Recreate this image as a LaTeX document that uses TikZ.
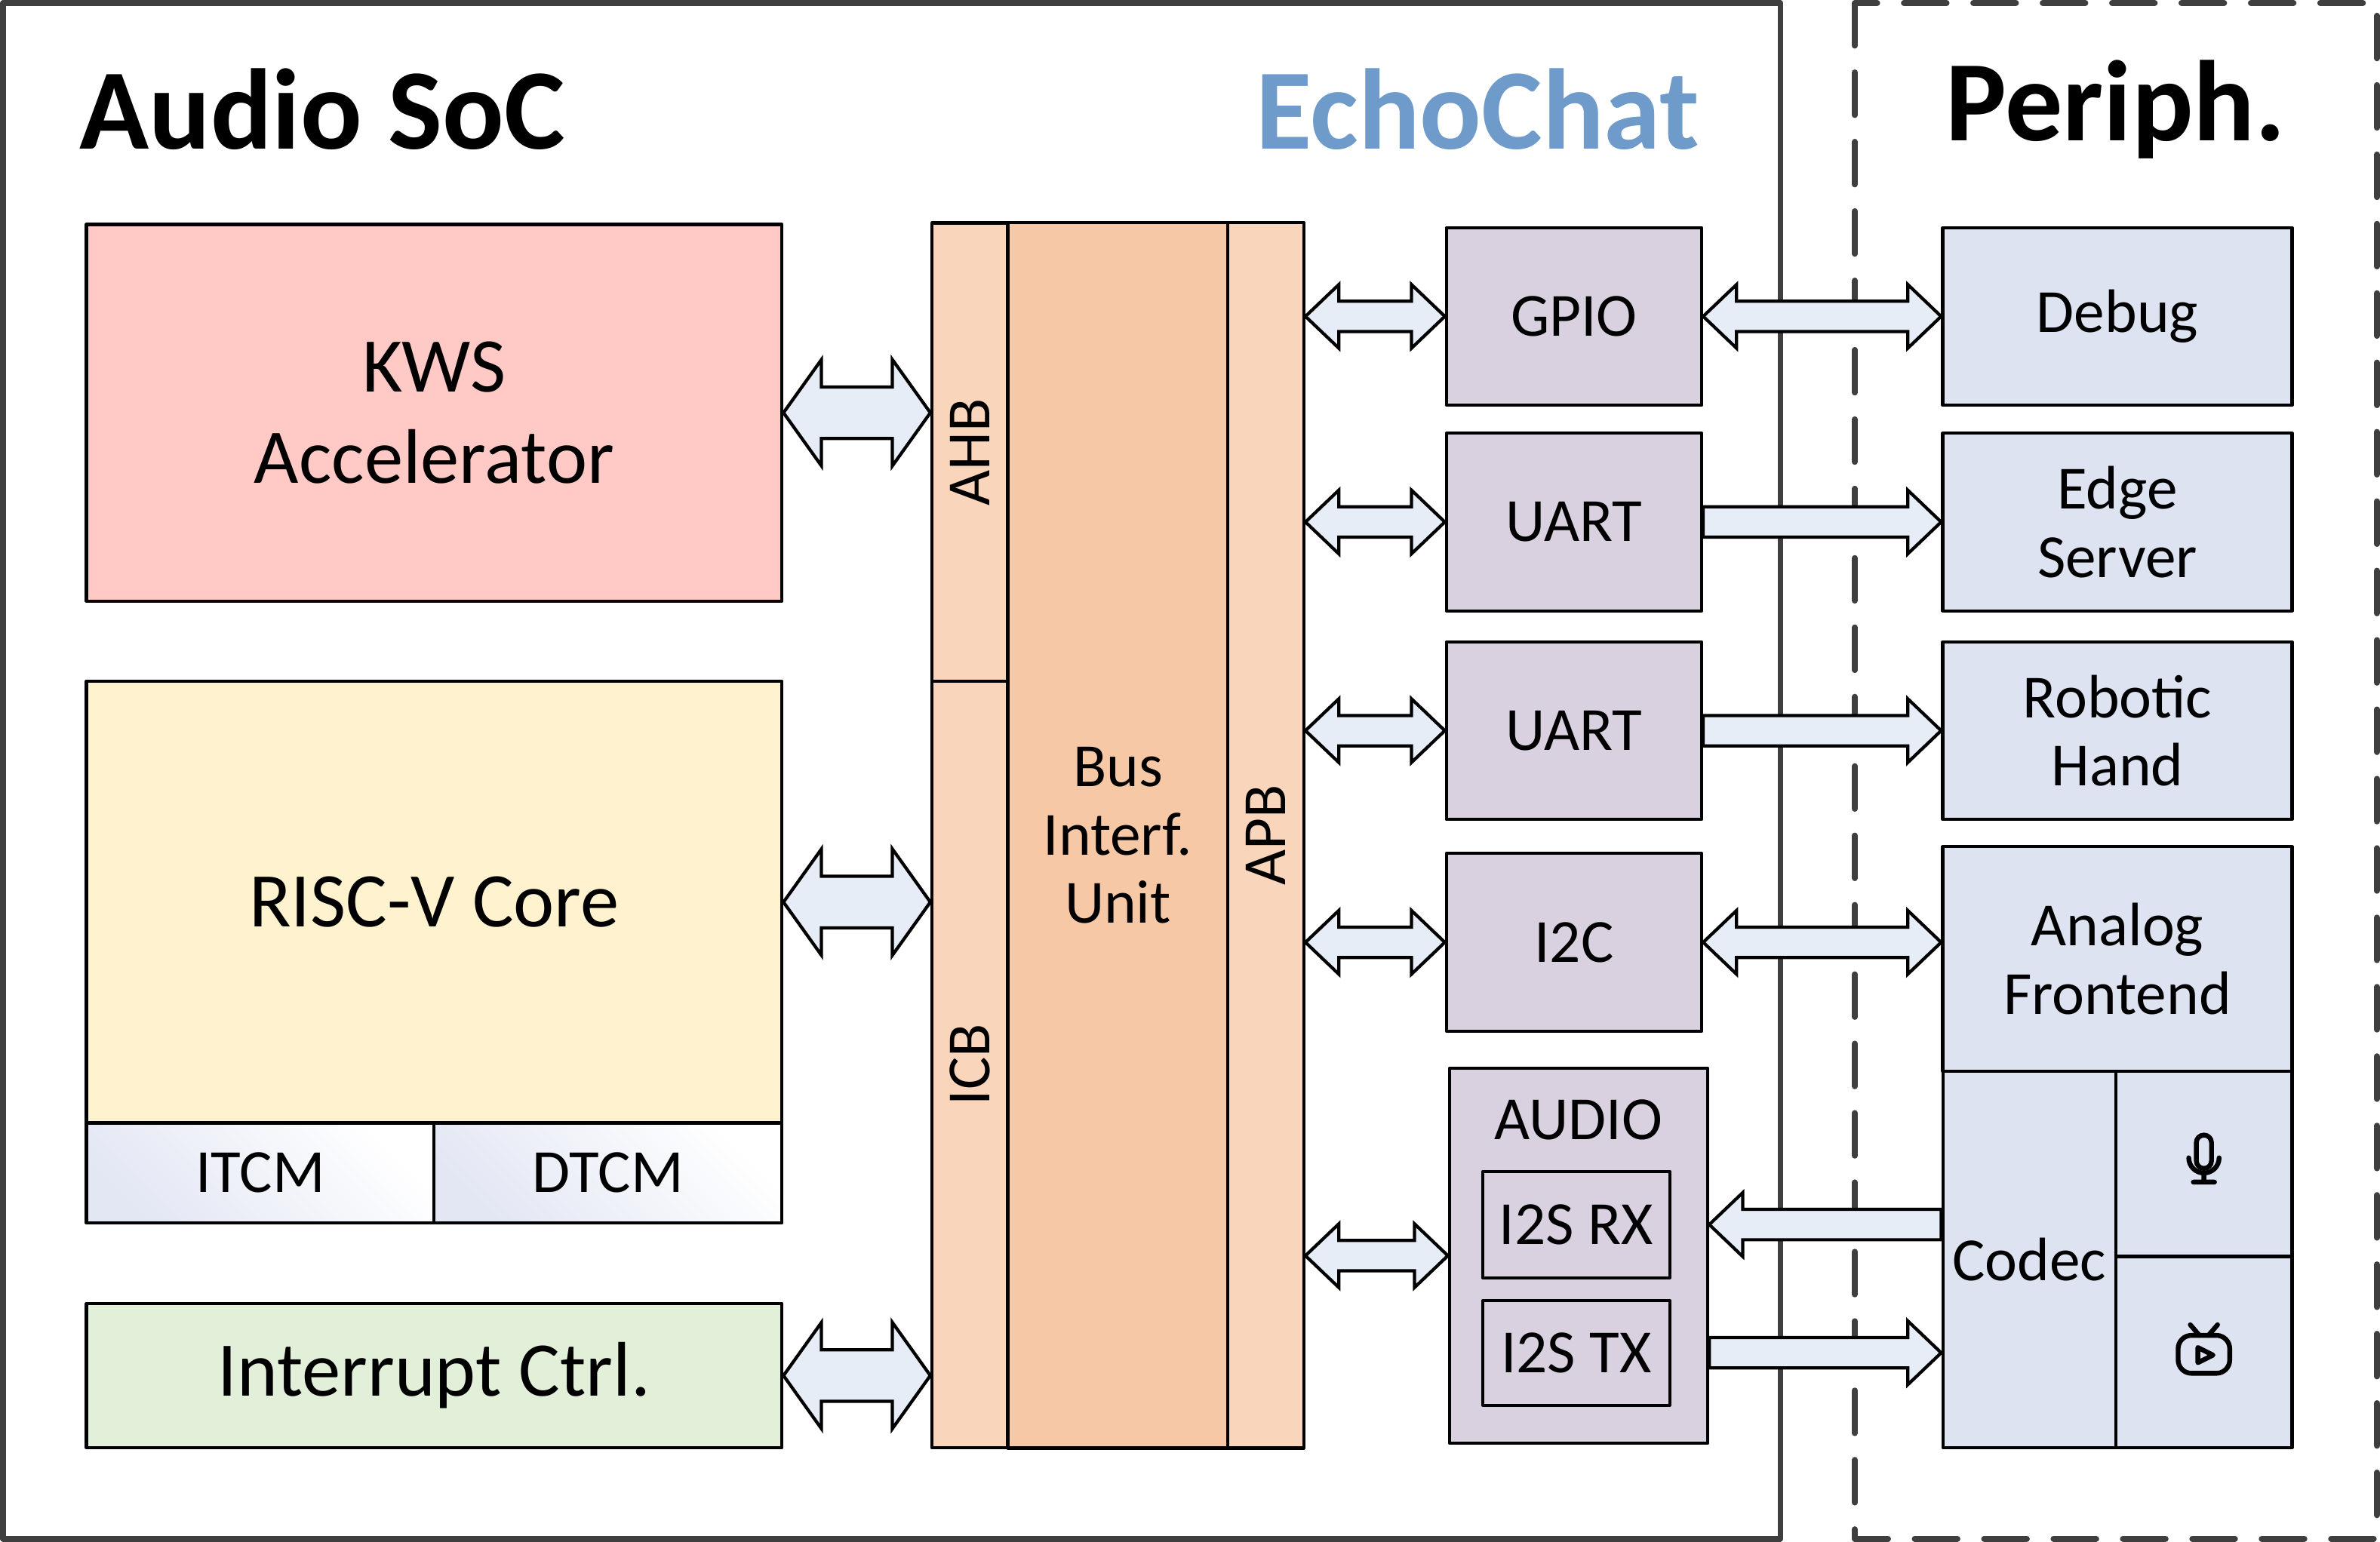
\documentclass[tikz,border=0pt]{standalone}
\usepackage{fontspec}
\setmainfont{Carlito}
\usetikzlibrary{calc}
\definecolor{kwsred}{HTML}{FFC9C5}
\definecolor{coreyel}{HTML}{FFF2CF}
\definecolor{irqgrn}{HTML}{E2EFD9}
\definecolor{busor}{HTML}{F8D5BB}
\definecolor{biuor}{HTML}{F6C8A6}
\definecolor{perpur}{HTML}{D9D0E0}
\definecolor{extblu}{HTML}{DDE3F1}
\definecolor{arrblu}{HTML}{E6EDF7}
\definecolor{tcmblu}{HTML}{E3E7F4}
\definecolor{echoblu}{HTML}{6F9BCB}
\definecolor{frame}{HTML}{3F3F3F}
\tikzset{
  blk/.style={draw, line width=0.6pt, inner sep=0pt, align=center},
  arr/.style={draw, line width=0.6pt, fill=arrblu, line join=miter},
}
% fat double arrow: #1 left point, #2 right point, #3 shaft half, #4 head half, #5 head length
\newcommand\dblarr[5]{%
\path[arr] let \p1=(#1), \p2=(#2) in
  (\x1,\y1) -- (\x1+#5,\y1+#4) -- (\x1+#5,\y1+#3) -- (\x2-#5,\y1+#3) -- (\x2-#5,\y1+#4)
  -- (\x2,\y1) -- (\x2-#5,\y1-#4) -- (\x2-#5,\y1-#3) -- (\x1+#5,\y1-#3) -- (\x1+#5,\y1-#4) -- cycle;}
% fat single arrow pointing right
\newcommand\rarr[5]{%
\path[arr] let \p1=(#1), \p2=(#2) in
  (\x1,\y1+#3) -- (\x2-#5,\y1+#3) -- (\x2-#5,\y1+#4) -- (\x2,\y1)
  -- (\x2-#5,\y1-#4) -- (\x2-#5,\y1-#3) -- (\x1,\y1-#3) -- cycle;}
% fat single arrow pointing left
\newcommand\larr[5]{%
\path[arr] let \p1=(#1), \p2=(#2) in
  (\x2,\y1+#3) -- (\x1+#5,\y1+#3) -- (\x1+#5,\y1+#4) -- (\x1,\y1)
  -- (\x1+#5,\y1-#4) -- (\x1+#5,\y1-#3) -- (\x2,\y1-#3) -- cycle;}
\begin{document}
\begin{tikzpicture}[x=0.01cm, y=-0.01cm, line join=round, line cap=round]
\useasboundingbox (0,0) rectangle (1568,1016);
%Khung
\draw[frame, line width=1.1pt] (2,2) rectangle (1173,1014);
\draw[frame, line width=1.1pt, dash pattern=on 8pt off 5pt] (1222,2) rectangle (1566,1014);
\node[anchor=west, font=\fontsize{21.5}{26}\selectfont\bfseries] (soc) at (40,72) {Audio SoC};
\node[anchor=east, font=\fontsize{21.5}{26}\selectfont\bfseries, text=echoblu] (echo) at (1132,72) {EchoChat};
\node[font=\fontsize{21.5}{26}\selectfont\bfseries] (per) at (1394,72) {Periph.};
%Khối bên trái
\node[blk, fill=kwsred, minimum width=4.58cm, minimum height=2.48cm, font=\fontsize{14.5}{17}\selectfont] (kws) at (286,272) {KWS\\Accelerator};
\node[blk, fill=coreyel, minimum width=4.58cm, minimum height=2.91cm, font=\fontsize{14.5}{17}\selectfont] (core) at (286,594.5) {RISC-V Core};
\node[blk, left color=tcmblu, right color=white, shading angle=135, minimum width=2.29cm, minimum height=0.66cm, font=\fontsize{11.5}{14}\selectfont] (itcm) at (171.5,773) {ITCM};
\node[blk, left color=tcmblu, right color=white, shading angle=135, minimum width=2.29cm, minimum height=0.66cm, font=\fontsize{11.5}{14}\selectfont] (dtcm) at (400.5,773) {DTCM};
\node[blk, fill=irqgrn, minimum width=4.58cm, minimum height=0.95cm, font=\fontsize{14.5}{17}\selectfont] (irq) at (286,906.5) {Interrupt Ctrl.};
%Bus
\node[blk, fill=busor, minimum width=0.5cm, minimum height=3.02cm] (ahb) at (639,298) {};
\node[rotate=90, font=\fontsize{11.5}{14}\selectfont] at (ahb) {AHB};
\node[blk, fill=busor, minimum width=0.5cm, minimum height=5.05cm] (icb) at (639,701.5) {};
\node[rotate=90, font=\fontsize{11.5}{14}\selectfont] at (icb) {ICB};
\node[blk, fill=biuor, minimum width=1.45cm, minimum height=8.07cm, font=\fontsize{11.5}{12.8}\selectfont] (biu) at (736.5,550.5) {Bus\\Interf.\\Unit};
\node[blk, fill=busor, minimum width=0.5cm, minimum height=8.07cm] (apb) at (834,550.5) {};
\node[rotate=90, font=\fontsize{11.5}{14}\selectfont] at (apb) {APB};
%Ngoại vi trong SoC
\tikzset{per/.style={blk, fill=perpur, minimum width=1.68cm, minimum height=1.17cm, font=\fontsize{11.5}{12.8}\selectfont}}
\node[per] (gpio) at (1037,208.5) {GPIO};
\node[per] (uarta) at (1037,344) {UART};
\node[per] (uartb) at (1037,481.5) {UART};
\node[per] (iic) at (1037,621) {I2C};
\node[blk, fill=perpur, minimum width=1.70cm, minimum height=2.47cm] (aud) at (1040,827.5) {};
\node[font=\fontsize{11.5}{14}\selectfont] at (1040,738) {AUDIO};
\node[per, minimum width=1.23cm, minimum height=0.70cm] (rx) at (1038.5,807) {I2S RX};
\node[per, minimum width=1.23cm, minimum height=0.69cm] (tx) at (1038.5,891.5) {I2S TX};
%Ngoại vi bên ngoài
\tikzset{ext/.style={blk, fill=extblu, minimum width=2.30cm, minimum height=1.17cm, font=\fontsize{11.5}{12.8}\selectfont}}
\node[ext] (dbg) at (1395,208.5) {Debug};
\node[ext] (edge) at (1395,344) {Edge\\Server};
\node[ext] (hand) at (1395,481.5) {Robotic\\Hand};
\node[ext, minimum height=1.48cm] (afe) at (1395,632) {Analog\\Frontend};
\node[ext, minimum width=1.14cm, minimum height=2.48cm] (codec) at (1337,830) {Codec};
\node[ext, minimum width=1.16cm, minimum height=1.22cm] (mic) at (1452,767) {};
\node[ext, minimum width=1.16cm, minimum height=1.26cm] (tv) at (1452,891) {};
%Biểu tượng
\begin{scope}[shift={(mic)}, yscale=-1, line width=0.9pt]
\draw (-5,14) -- (-5,2) arc[start angle=180, end angle=360, radius=5] -- (5,14) arc[start angle=0, end angle=180, radius=5];
\draw (-10,4) arc[start angle=180, end angle=360, radius=10] (0,-6) -- (0,-12) (-7,-12) -- (7,-12);
\end{scope}
\begin{scope}[shift={(tv)}, yscale=-1, line width=0.9pt]
\draw[rounded corners=2.5pt] (-17,-14) rectangle (17,11);
\draw (-9,18) -- (-3,11) (9,18) -- (3,11);
\draw (-4,3) -- (6,-2) -- (-4,-7) -- cycle;
\end{scope}
%Mũi tên
\dblarr{kws.east}{ahb.west|-kws.east}{0.17cm}{0.35cm}{0.25cm}
\dblarr{core.east}{icb.west|-core.east}{0.17cm}{0.35cm}{0.25cm}
\dblarr{irq.east}{icb.west|-irq.east}{0.17cm}{0.35cm}{0.25cm}
\dblarr{apb.east|-gpio.west}{gpio.west}{0.10cm}{0.21cm}{0.22cm}
\dblarr{apb.east|-uarta.west}{uarta.west}{0.10cm}{0.21cm}{0.22cm}
\dblarr{apb.east|-uartb.west}{uartb.west}{0.10cm}{0.21cm}{0.22cm}
\dblarr{apb.east|-iic.west}{iic.west}{0.10cm}{0.21cm}{0.22cm}
\dblarr{apb.east|-aud.west}{aud.west}{0.10cm}{0.21cm}{0.22cm}
\dblarr{gpio.east}{dbg.west}{0.10cm}{0.21cm}{0.22cm}
\rarr{uarta.east}{edge.west}{0.10cm}{0.21cm}{0.22cm}
\rarr{uartb.east}{hand.west}{0.10cm}{0.21cm}{0.22cm}
\dblarr{iic.east}{iic.east-|afe.west}{0.10cm}{0.21cm}{0.22cm}
\larr{aud.east|-rx.east}{codec.west|-rx.east}{0.10cm}{0.21cm}{0.22cm}
\rarr{aud.east|-tx.east}{codec.west|-tx.east}{0.10cm}{0.21cm}{0.22cm}
\end{tikzpicture}
\end{document}
